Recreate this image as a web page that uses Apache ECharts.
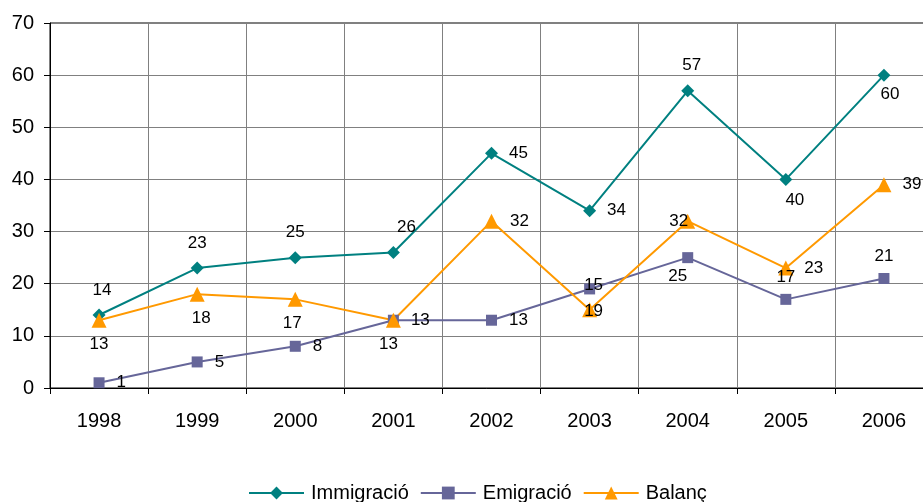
<!DOCTYPE html>
<html><head><meta charset="utf-8">
<script src="https://cdn.jsdelivr.net/npm/echarts@6/dist/echarts.min.js"></script>
<style>html,body{margin:0;padding:0;background:#fff}#c{width:923px;height:502px}</style>
</head><body><div id="c"></div>
<script>
const years = ['1998','1999','2000','2001','2002','2003','2004','2005','2006'];
const immigracio = [14, 23, 25, 26, 45, 34, 57, 40, 60];
const emigracio  = [1, 5, 8, 13, 13, 19, 25, 17, 21];
const balanc     = [13, 18, 17, 13, 32, 15, 32, 23, 39];
const seriesNames = ['Immigració', 'Emigració', 'Balanç'];

const immPos = ['top','top','top','top','right','right','top','bottom','bottom'];
const emiPos = ['right','right','right','right','right','bottom','bottom','top','top'];
const balPos = ['bottom','bottom','bottom','bottom','right','top','left','right','right'];
// small label nudges (style only)
const immNudge = [[3,0],[0,0],[0,0],[13,0],[0,0],[0,0],[4,0],[9,-4],[6,-6]];
const emiNudge = [[0,0],[0,0],[0,0],[0,0],[0,0],[4,0],[-10,-3],[0,0],[0,0]];
const balNudge = [[0,0],[4,0],[-3,0],[-5,0],[0,0],[4,0],[16,0],[0,0],[0,0]];

function mk(vals, pos, nudge, rightDist){
  return vals.map((v,i)=>{
    const l = {position:pos[i], offset:nudge[i]};
    if (pos[i]==='right') l.distance = rightDist;
    return {value:v, label:l};
  });
}

const font = 'Liberation Sans, Arial, sans-serif';
const chart = echarts.init(document.getElementById('c'), null, {renderer:'canvas'});
const lbl = {show:true, color:'#000', fontSize:17, fontFamily:font, distance:8};
chart.setOption({
  animation:false,
  textStyle:{fontFamily:font},
  grid:{left:50, width:883, top:23, bottom:114, show:true, borderColor:'#000', borderWidth:1,
    containLabel:false, outerBoundsMode:'none'},
  xAxis:{type:'category', data:years, boundaryGap:true,
    axisLine:{lineStyle:{color:'#000', width:1}},
    axisTick:{show:true, length:6, lineStyle:{color:'#000'}},
    axisLabel:{color:'#000', fontSize:20, margin:23, fontFamily:font},
    splitLine:{show:true, lineStyle:{color:'#808080', width:1}}},
  yAxis:{type:'value', min:0, max:70, interval:10,
    axisLine:{show:true, lineStyle:{color:'#000', width:1}},
    axisTick:{show:true, length:6, lineStyle:{color:'#000'}},
    axisLabel:{color:'#000', fontSize:20, margin:16, fontFamily:font},
    splitLine:{show:true, lineStyle:{color:'#808080', width:1}}},
  legend:{top:478, left:243, itemWidth:55, itemHeight:16, itemGap:11,
    textStyle:{color:'#000', fontSize:20, fontFamily:font, padding:[0,0,0,2]},
    data:seriesNames},
  series:[
    {name:seriesNames[0], type:'line', data:mk(immigracio, immPos, immNudge, 11), symbol:'diamond', symbolSize:13,
      itemStyle:{color:'#008080'}, lineStyle:{color:'#008080', width:2}, label:Object.assign({}, lbl, {distance:10})},
    {name:seriesNames[1], type:'line', data:mk(emigracio, emiPos, emiNudge, 12), symbol:'rect', symbolSize:11,
      itemStyle:{color:'#666699'}, lineStyle:{color:'#666699', width:2}, label:lbl},
    {name:seriesNames[2], type:'line', data:mk(balanc, balPos, balNudge, 11), symbol:'triangle', symbolSize:15,
      itemStyle:{color:'#FF9900'}, lineStyle:{color:'#FF9900', width:2}, label:lbl}
  ]
});
</script></body></html>
